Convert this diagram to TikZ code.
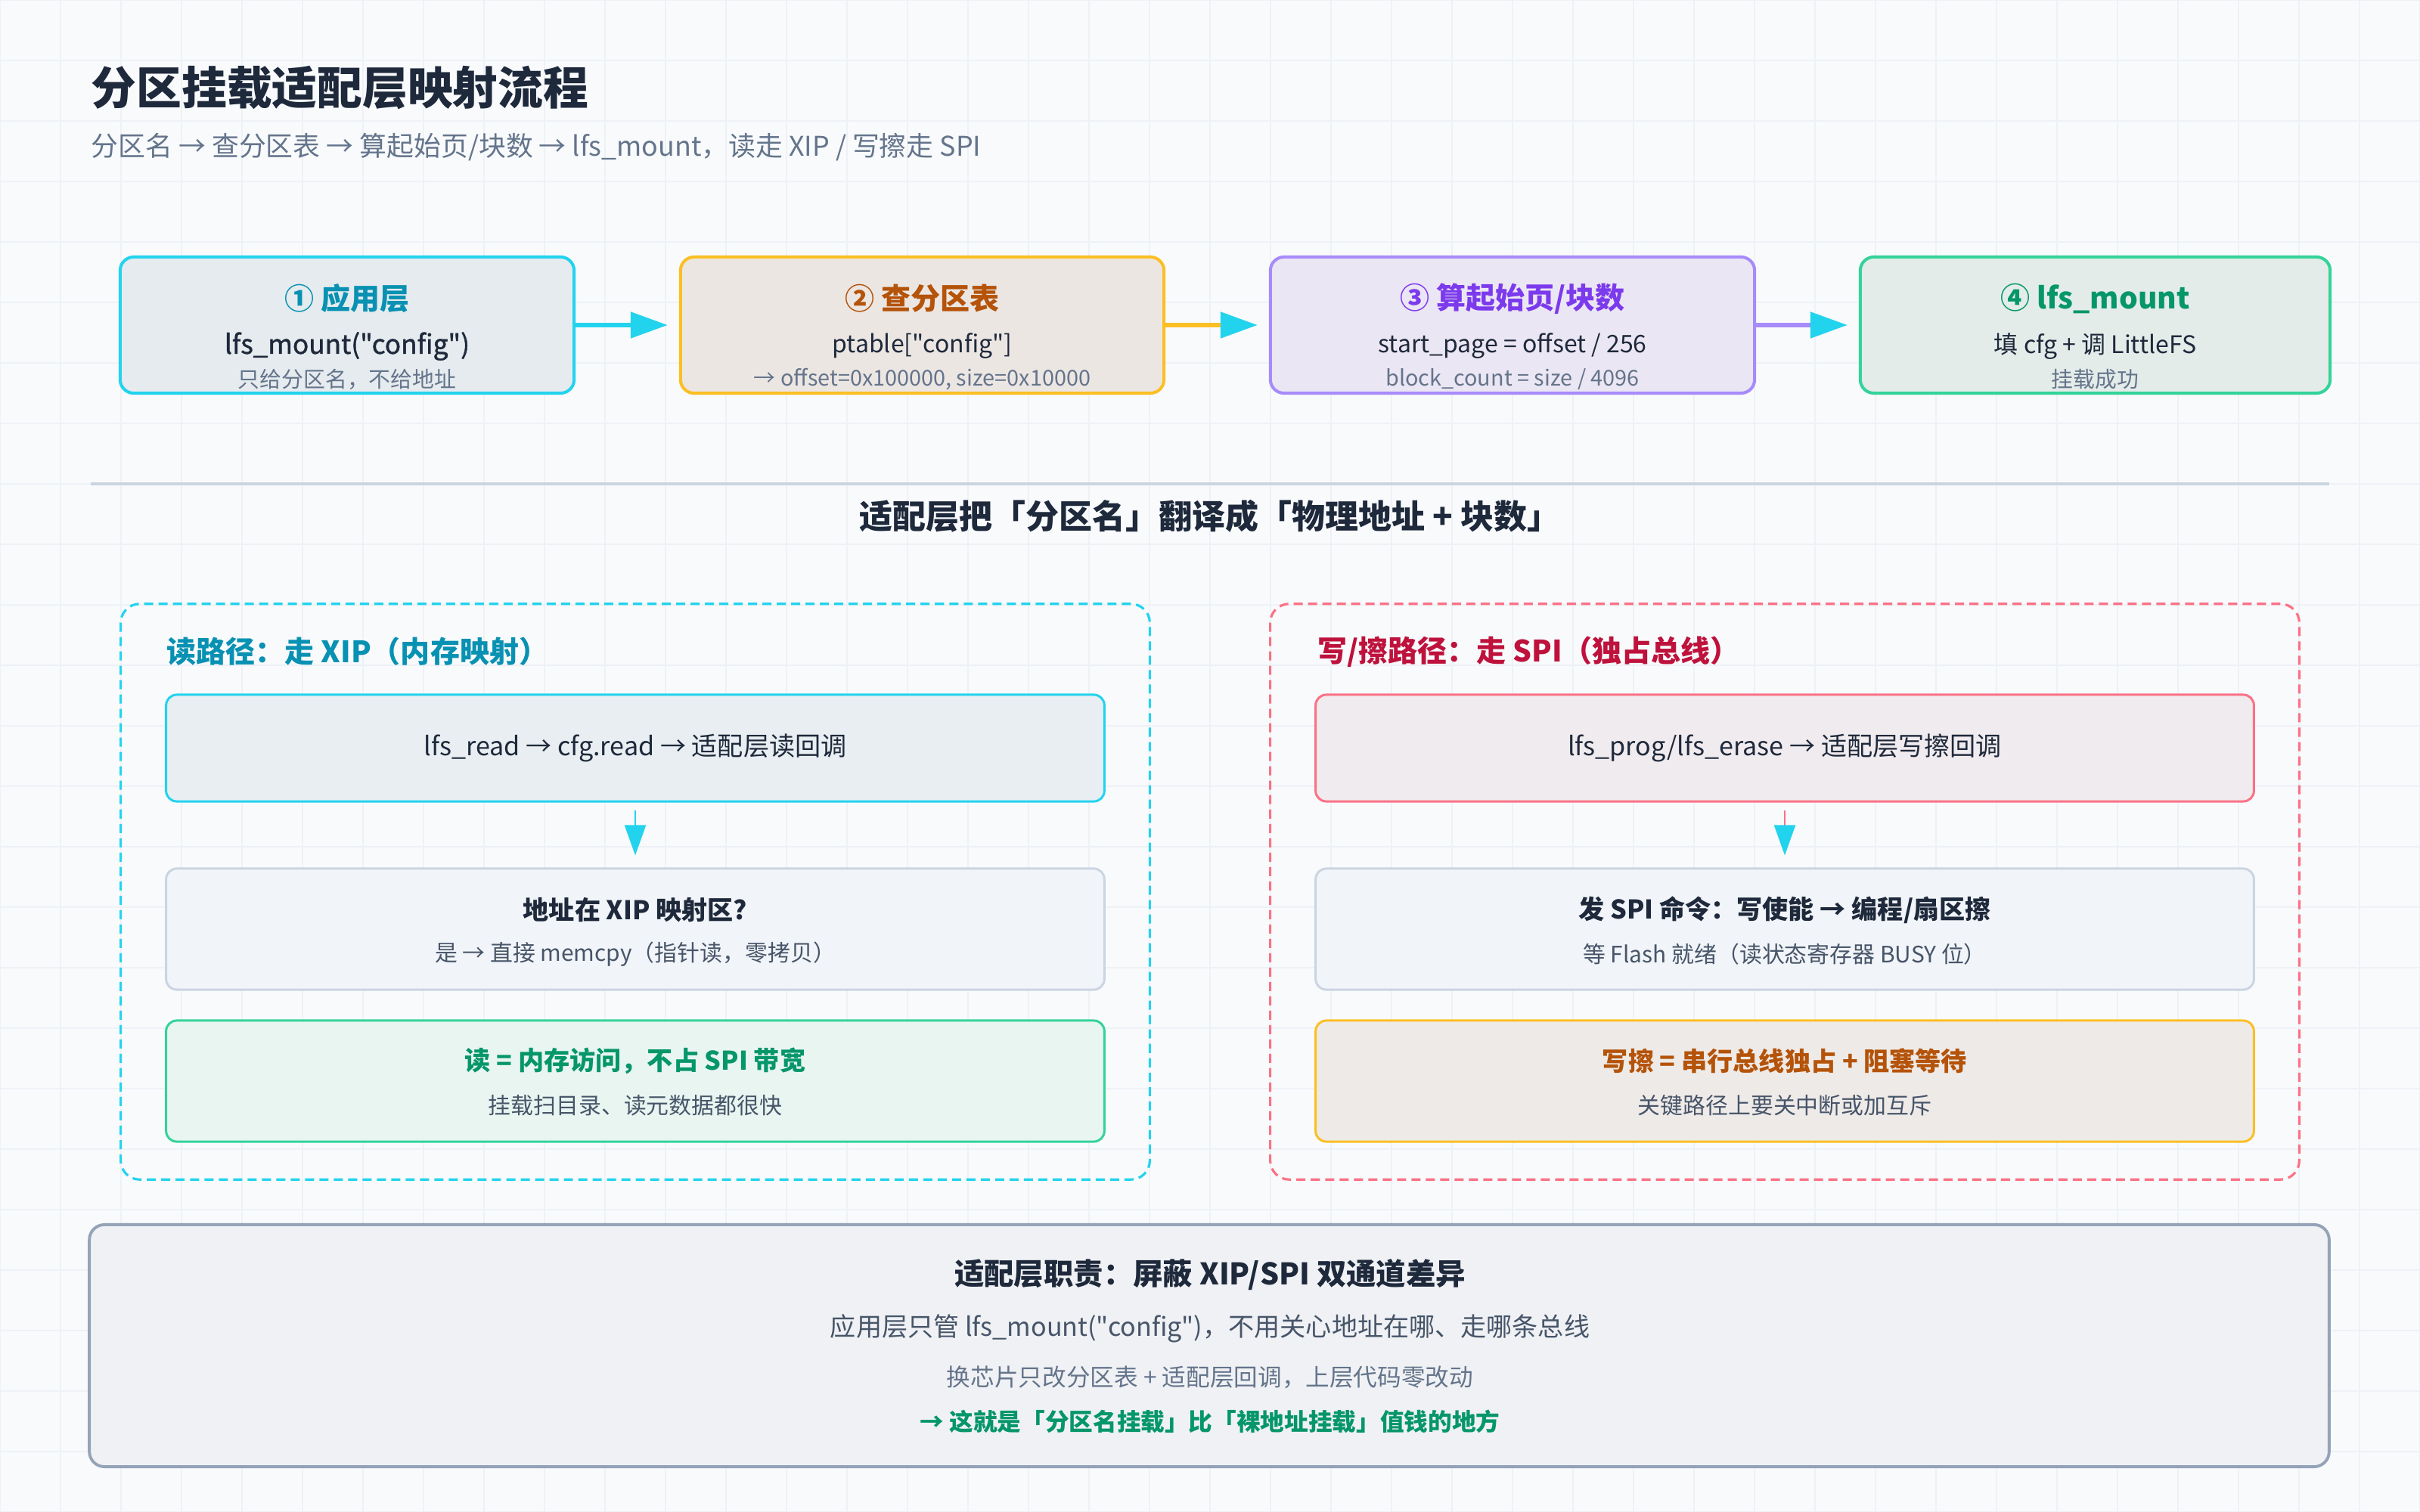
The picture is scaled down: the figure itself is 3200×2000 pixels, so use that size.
\documentclass[tikz,border=0pt]{standalone}
\usepackage{fontspec}
\setmainfont{Noto Sans CJK SC}[Ligatures=TeXOff]
\newfontfamily\semibf{Noto Sans CJK SC}[Ligatures=TeXOff, FakeBold=1.2]
\usetikzlibrary{arrows.meta}

\definecolor{bg}{HTML}{F8FAFC}
\definecolor{gridc}{HTML}{EEF1F6}
\definecolor{ink}{HTML}{1E293B}
\definecolor{mute}{HTML}{64748B}
\definecolor{soft}{HTML}{475569}
\definecolor{rule}{HTML}{CBD5E1}
\definecolor{cyanC}{HTML}{22D3EE}
\definecolor{cyanT}{HTML}{0891B2}
\definecolor{amberC}{HTML}{FBBF24}
\definecolor{amberT}{HTML}{B45309}
\definecolor{violetC}{HTML}{A78BFA}
\definecolor{violetT}{HTML}{7C3AED}
\definecolor{greenC}{HTML}{34D399}
\definecolor{greenT}{HTML}{059669}
\definecolor{roseC}{HTML}{FB7185}
\definecolor{roseT}{HTML}{BE123C}
\definecolor{slateC}{HTML}{94A3B8}
\definecolor{fillA}{HTML}{E5EBEE}
\definecolor{fillB}{HTML}{ECE6E3}
\definecolor{fillC}{HTML}{EBE6F3}
\definecolor{fillD}{HTML}{E3ECE9}
\definecolor{fillR}{HTML}{E8EEF1}
\definecolor{fillS}{HTML}{F1F4F8}
\definecolor{fillG}{HTML}{E8F5F1}
\definecolor{fillP}{HTML}{F0EBEE}
\definecolor{fillO}{HTML}{EEEAE8}
\definecolor{fillE}{HTML}{EFF1F4}

\newcommand{\fsz}[1]{\fontsize{#1}{#1}\selectfont}

\begin{document}
\begin{tikzpicture}[x=0.01cm, y=-0.01cm, inner sep=0]

\tikzset{stage/.style = {draw, rounded corners=0.18cm, line width=1.15pt, minimum height=1.8cm}}
\tikzset{card/.style = {draw, rounded corners=0.14cm, line width=0.85pt, minimum width=12.4cm}}
\tikzset{group/.style = {draw, dash pattern=on 0.12cm off 0.07cm, rounded corners=0.25cm, line width=0.9pt, minimum width=13.6cm, minimum height=7.61cm}}
\tikzset{flow/.style = {line width=1.5pt, shorten >=0.15cm, -{Triangle[length=0.49cm, width=0.34cm, color=cyanC]}}}
\tikzset{down/.style = {line width=0.6pt, shorten <=0.1cm, shorten >=0.16cm, -{Triangle[length=0.4cm, width=0.28cm, color=cyanC]}}}

%background
\useasboundingbox (0,0) rectangle (3200,2000);
\fill[bg] (0,0) rectangle (3200,2000);
\foreach \i in {0,80,...,3200} \draw[gridc, line width=0.4pt] (\i,0) -- (\i,2000);
\foreach \i in {0,80,...,2000} \draw[gridc, line width=0.4pt] (0,\i) -- (3200,\i);

%title
\node[anchor=west, font=\fsz{17}\bfseries, text=ink] (title) at (120,116) {分区挂载适配层映射流程};
\node[anchor=west, font=\fsz{10.2}, text=mute] (sub) at (120,195) {分区名 → 查分区表 → 算起始页/块数 → lfs\_mount，读走 XIP / 写擦走 SPI};

%stages
\node[stage, draw=cyanC, fill=fillA, minimum width=6cm] (s1) at (459,430) {};
\node[stage, draw=amberC, fill=fillB, minimum width=6.39cm] (s2) at (1219.5,430) {};
\node[stage, draw=violetC, fill=fillC, minimum width=6.4cm] (s3) at (2000,430) {};
\node[stage, draw=greenC, fill=fillD, minimum width=6.21cm] (s4) at (2770.5,430) {};

\node[font=\fsz{11.1}\bfseries, text=cyanT] (s1a) at (459,395) {① 应用层};
\node[font=\fsz{10}\semibf, text=ink] (s1b) at (459,458) {lfs\_mount("config")};
\node[font=\fsz{8.2}, text=mute] (s1c) at (459,502) {只给分区名，不给地址};

\node[font=\fsz{11.1}\bfseries, text=amberT] (s2a) at (1219.5,395) {② 查分区表};
\node[font=\fsz{9.1}, text=ink] (s2b) at (1219.5,458) {ptable["config"]};
\node[font=\fsz{8.2}, text=mute] (s2c) at (1219.5,502) {→ offset=0x100000, size=0x10000};

\node[font=\fsz{11.1}\bfseries, text=violetT] (s3a) at (2000,395) {③ 算起始页/块数};
\node[font=\fsz{9.1}, text=ink] (s3b) at (2000,458) {start\_page = offset / 256};
\node[font=\fsz{8.2}, text=mute] (s3c) at (2000,502) {block\_count = size / 4096};

\node[font=\fsz{11.1}\bfseries, text=greenT] (s4a) at (2770.5,395) {④ lfs\_mount};
\node[font=\fsz{9.1}, text=ink] (s4b) at (2770.5,458) {填 cfg + 调 LittleFS};
\node[font=\fsz{8.2}, text=mute] (s4c) at (2770.5,502) {挂载成功};

%stage arrows
\path (s1) edge[flow, draw=cyanC] (s2);
\path (s2) edge[flow, draw=amberC] (s3);
\path (s3) edge[flow, draw=violetC] (s4);

%divider
\coordinate (l0) at (120,640);
\coordinate (l1) at (3080,640);
\draw[rule, line width=1.1pt] (l0) -- (l1);
\node[font=\fsz{12.5}\bfseries, text=ink] (mid) at (1600,683) {适配层把「分区名」翻译成「物理地址 + 块数」};

%groups
\node[group, draw=cyanC] (g1) at (840,1179.5) {};
\node[group, draw=roseC] (g2) at (2360,1179.5) {};
\node[anchor=west, font=\fsz{11.1}\bfseries, text=cyanT] (g1t) at (220,862) {读路径：走 XIP（内存映射）};
\node[anchor=west, font=\fsz{11.1}\bfseries, text=roseT] (g2t) at (1742,862) {写/擦路径：走 SPI（独占总线）};

%read path
\node[card, draw=cyanC, fill=fillR, minimum height=1.41cm, font=\fsz{9.7}, text=ink] (r1) at (840,989.5) {lfs\_read → cfg.read → 适配层读回调};
\node[card, draw=rule, fill=fillS, minimum height=1.6cm] (r2) at (840,1229) {};
\node[card, draw=greenC, fill=fillG, minimum height=1.6cm] (r3) at (840,1430) {};
\node[font=\fsz{9.7}\bfseries, text=ink] (r2a) at (840,1204) {地址在 XIP 映射区?};
\node[font=\fsz{8.5}, text=soft] (r2b) at (840,1262) {是 → 直接 memcpy（指针读，零拷贝）};
\node[font=\fsz{9.7}\bfseries, text=greenT] (r3a) at (840,1403) {读 = 内存访问，不占 SPI 带宽};
\node[font=\fsz{8.5}, text=soft] (r3b) at (840,1462) {挂载扫目录、读元数据都很快};
\path (r1) edge[down, draw=cyanC] (r2);

%write path
\node[card, draw=roseC, fill=fillP, minimum height=1.41cm, font=\fsz{9.7}, text=ink] (w1) at (2360,989.5) {lfs\_prog/lfs\_erase → 适配层写擦回调};
\node[card, draw=rule, fill=fillS, minimum height=1.6cm] (w2) at (2360,1229) {};
\node[card, draw=amberC, fill=fillO, minimum height=1.6cm] (w3) at (2360,1430) {};
\node[font=\fsz{9.7}\bfseries, text=ink] (w2a) at (2360,1204) {发 SPI 命令：写使能 → 编程/扇区擦};
\node[font=\fsz{8.5}, text=soft] (w2b) at (2360,1262) {等 Flash 就绪（读状态寄存器 BUSY 位）};
\node[font=\fsz{9.7}\bfseries, text=amberT] (w3a) at (2360,1403) {写擦 = 串行总线独占 + 阻塞等待};
\node[font=\fsz{8.5}, text=soft] (w3b) at (2360,1462) {关键路径上要关中断或加互斥};
\path (w1) edge[down, draw=roseC] (w2);

%summary
\node[draw=slateC, fill=fillE, rounded corners=0.2cm, line width=1.1pt, minimum width=29.6cm, minimum height=3.2cm] (sum) at (1599,1780) {};
\node[font=\fsz{11.2}\bfseries, text=ink] (sum1) at (1600,1686) {适配层职责：屏蔽 XIP/SPI 双通道差异};
\node[font=\fsz{9.7}, text=soft] (sum2) at (1600,1757) {应用层只管 lfs\_mount("config")，不用关心地址在哪、走哪条总线};
\node[font=\fsz{9}, text=mute] (sum3) at (1600,1822) {换芯片只改分区表 + 适配层回调，上层代码零改动};
\node[font=\fsz{9}\bfseries, text=greenT] (sum4) at (1600,1880) {→ 这就是「分区名挂载」比「裸地址挂载」值钱的地方};

\end{tikzpicture}
\end{document}
